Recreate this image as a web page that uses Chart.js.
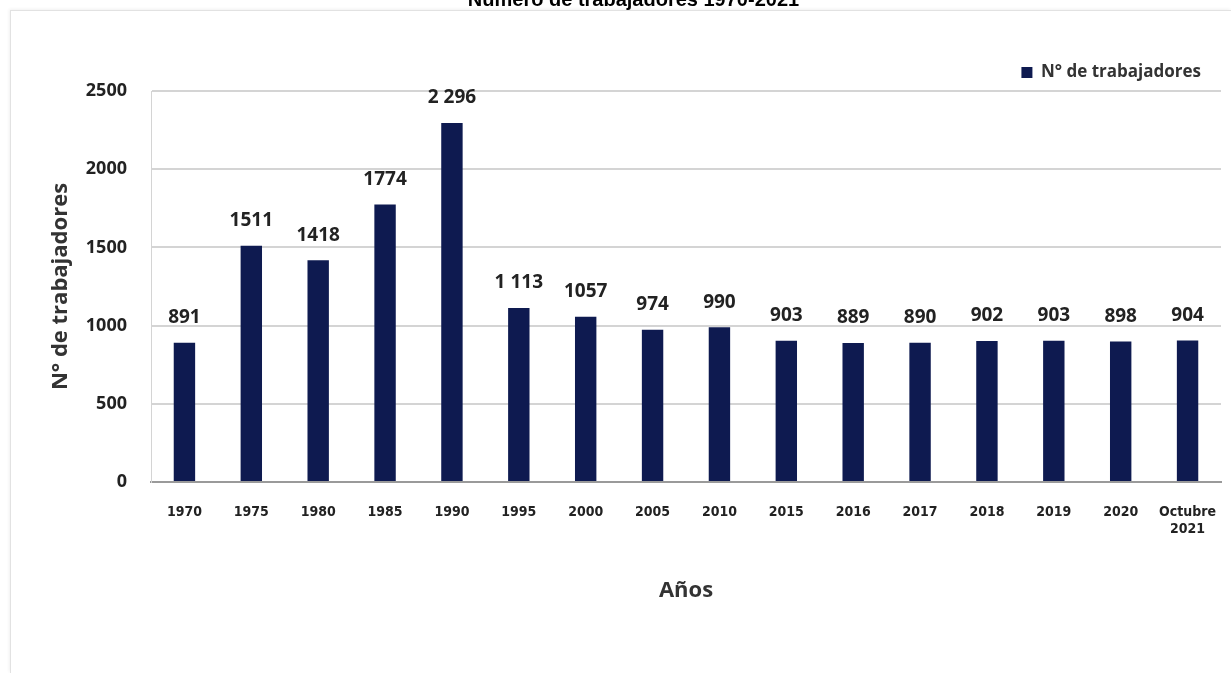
<!DOCTYPE html>
<html lang="es">
<head>
<meta charset="utf-8">
<title>Número de trabajadores 1970-2021</title>
<script src="https://cdn.jsdelivr.net/npm/chart.js@4.4.1/dist/chart.umd.min.js"></script>
<style>
  html, body { margin: 0; padding: 0; background: #fff; overflow: hidden; }
  body { width: 1231px; height: 673px; position: relative; }
  .marco {
    position: absolute; left: 10px; top: 10px; right: 0; bottom: 0;
    border-left: 1px solid #e2e2e2; border-top: 1px solid #e2e2e2;
    box-shadow: -1px -1px 3px rgba(0,0,0,0.06);
  }
  .lienzo { position: absolute; left: 0; top: -12px; width: 1231px; height: 685px; }
</style>
</head>
<body>
<div class="marco"></div>
<div class="lienzo"><canvas id="grafico"></canvas></div>
<script>
// Datos
const anios = ['1970', '1975', '1980', '1985', '1990', '1995', '2000', '2005', '2010',
  '2015', '2016', '2017', '2018', '2019', '2020', ['Octubre', '2021']];
const trabajadores = [891, 1511, 1418, 1774, 2296, 1113, 1057, 974, 990, 903, 889, 890, 902, 903, 898, 904];
const etiquetas = ['891', '1511', '1418', '1774', '2 296', '1 113', '1057', '974', '990',
  '903', '889', '890', '902', '903', '898', '904'];
const ticksY = [0, 500, 1000, 1500, 2000, 2500];

const AZUL = '#0e1a50';
const FUENTE = '"Open Sans", "Noto Sans", sans-serif';

// etiquetas de valor encima de cada barra
const valoresPlugin = {
  id: 'valores',
  afterDatasetsDraw(chart) {
    const { ctx } = chart;
    const meta = chart.getDatasetMeta(0);
    ctx.save();
    ctx.font = 'bold 19px ' + FUENTE;
    ctx.fillStyle = '#222';
    ctx.textAlign = 'center';
    ctx.textBaseline = 'middle';
    meta.data.forEach((bar, i) => {
      ctx.fillText(etiquetas[i], bar.x, bar.y - 25);
    });
    ctx.restore();
  }
};

new Chart(document.getElementById('grafico'), {
  type: 'bar',
  data: {
    labels: anios,
    datasets: [{
      label: 'N° de trabajadores',
      data: trabajadores,
      backgroundColor: AZUL,
      borderWidth: 0,
      barPercentage: 0.32,
      categoryPercentage: 1
    }]
  },
  options: {
    responsive: true,
    maintainAspectRatio: false,
    animation: false,
    layout: { padding: { left: 46, right: 10, top: 0, bottom: 65 } },
    plugins: {
      title: {
        display: true,
        text: 'Número de trabajadores 1970-2021',
        font: { family: '"Liberation Sans", Arial, sans-serif', size: 20, weight: 'bold' },
        color: '#000',
        padding: { top: 0, bottom: 32 }
      },
      legend: {
        position: 'top',
        align: 'end',
        labels: {
          boxWidth: 11,
          boxHeight: 11,
          color: '#333',
          font: { family: FUENTE, size: 17, weight: 'bold' },
          padding: 20
        }
      },
      tooltip: { enabled: false }
    },
    scales: {
      x: {
        grid: { display: false },
        border: { color: '#9a9a9a', width: 2 },
        ticks: {
          color: '#222',
          font: { family: '"Liberation Sans Narrow", "DejaVu Sans Condensed", sans-serif', size: 14, weight: 'bold' },
          maxRotation: 0,
          padding: 14
        },
        title: {
          display: true,
          text: 'Años',
          color: '#333',
          font: { family: FUENTE, size: 22, weight: 'bold' },
          padding: { top: 26 }
        }
      },
      y: {
        min: 0,
        max: 2500,
        afterBuildTicks: axis => { axis.ticks = ticksY.map(v => ({ value: v })); },
        afterFit: axis => { axis.width = 105; },
        grid: { color: '#d4d4d4', lineWidth: 2, drawTicks: false },
        border: { display: true, color: '#d4d4d4' },
        ticks: {
          color: '#222',
          font: { family: FUENTE, size: 18, weight: 'bold' },
          padding: 24,
          callback: v => String(v)
        },
        title: {
          display: true,
          text: 'N° de trabajadores',
          color: '#333',
          font: { family: FUENTE, size: 22, weight: 'bold' },
          padding: { top: 2, bottom: 0 }
        }
      }
    }
  },
  plugins: [valoresPlugin]
});
</script>
</body>
</html>
